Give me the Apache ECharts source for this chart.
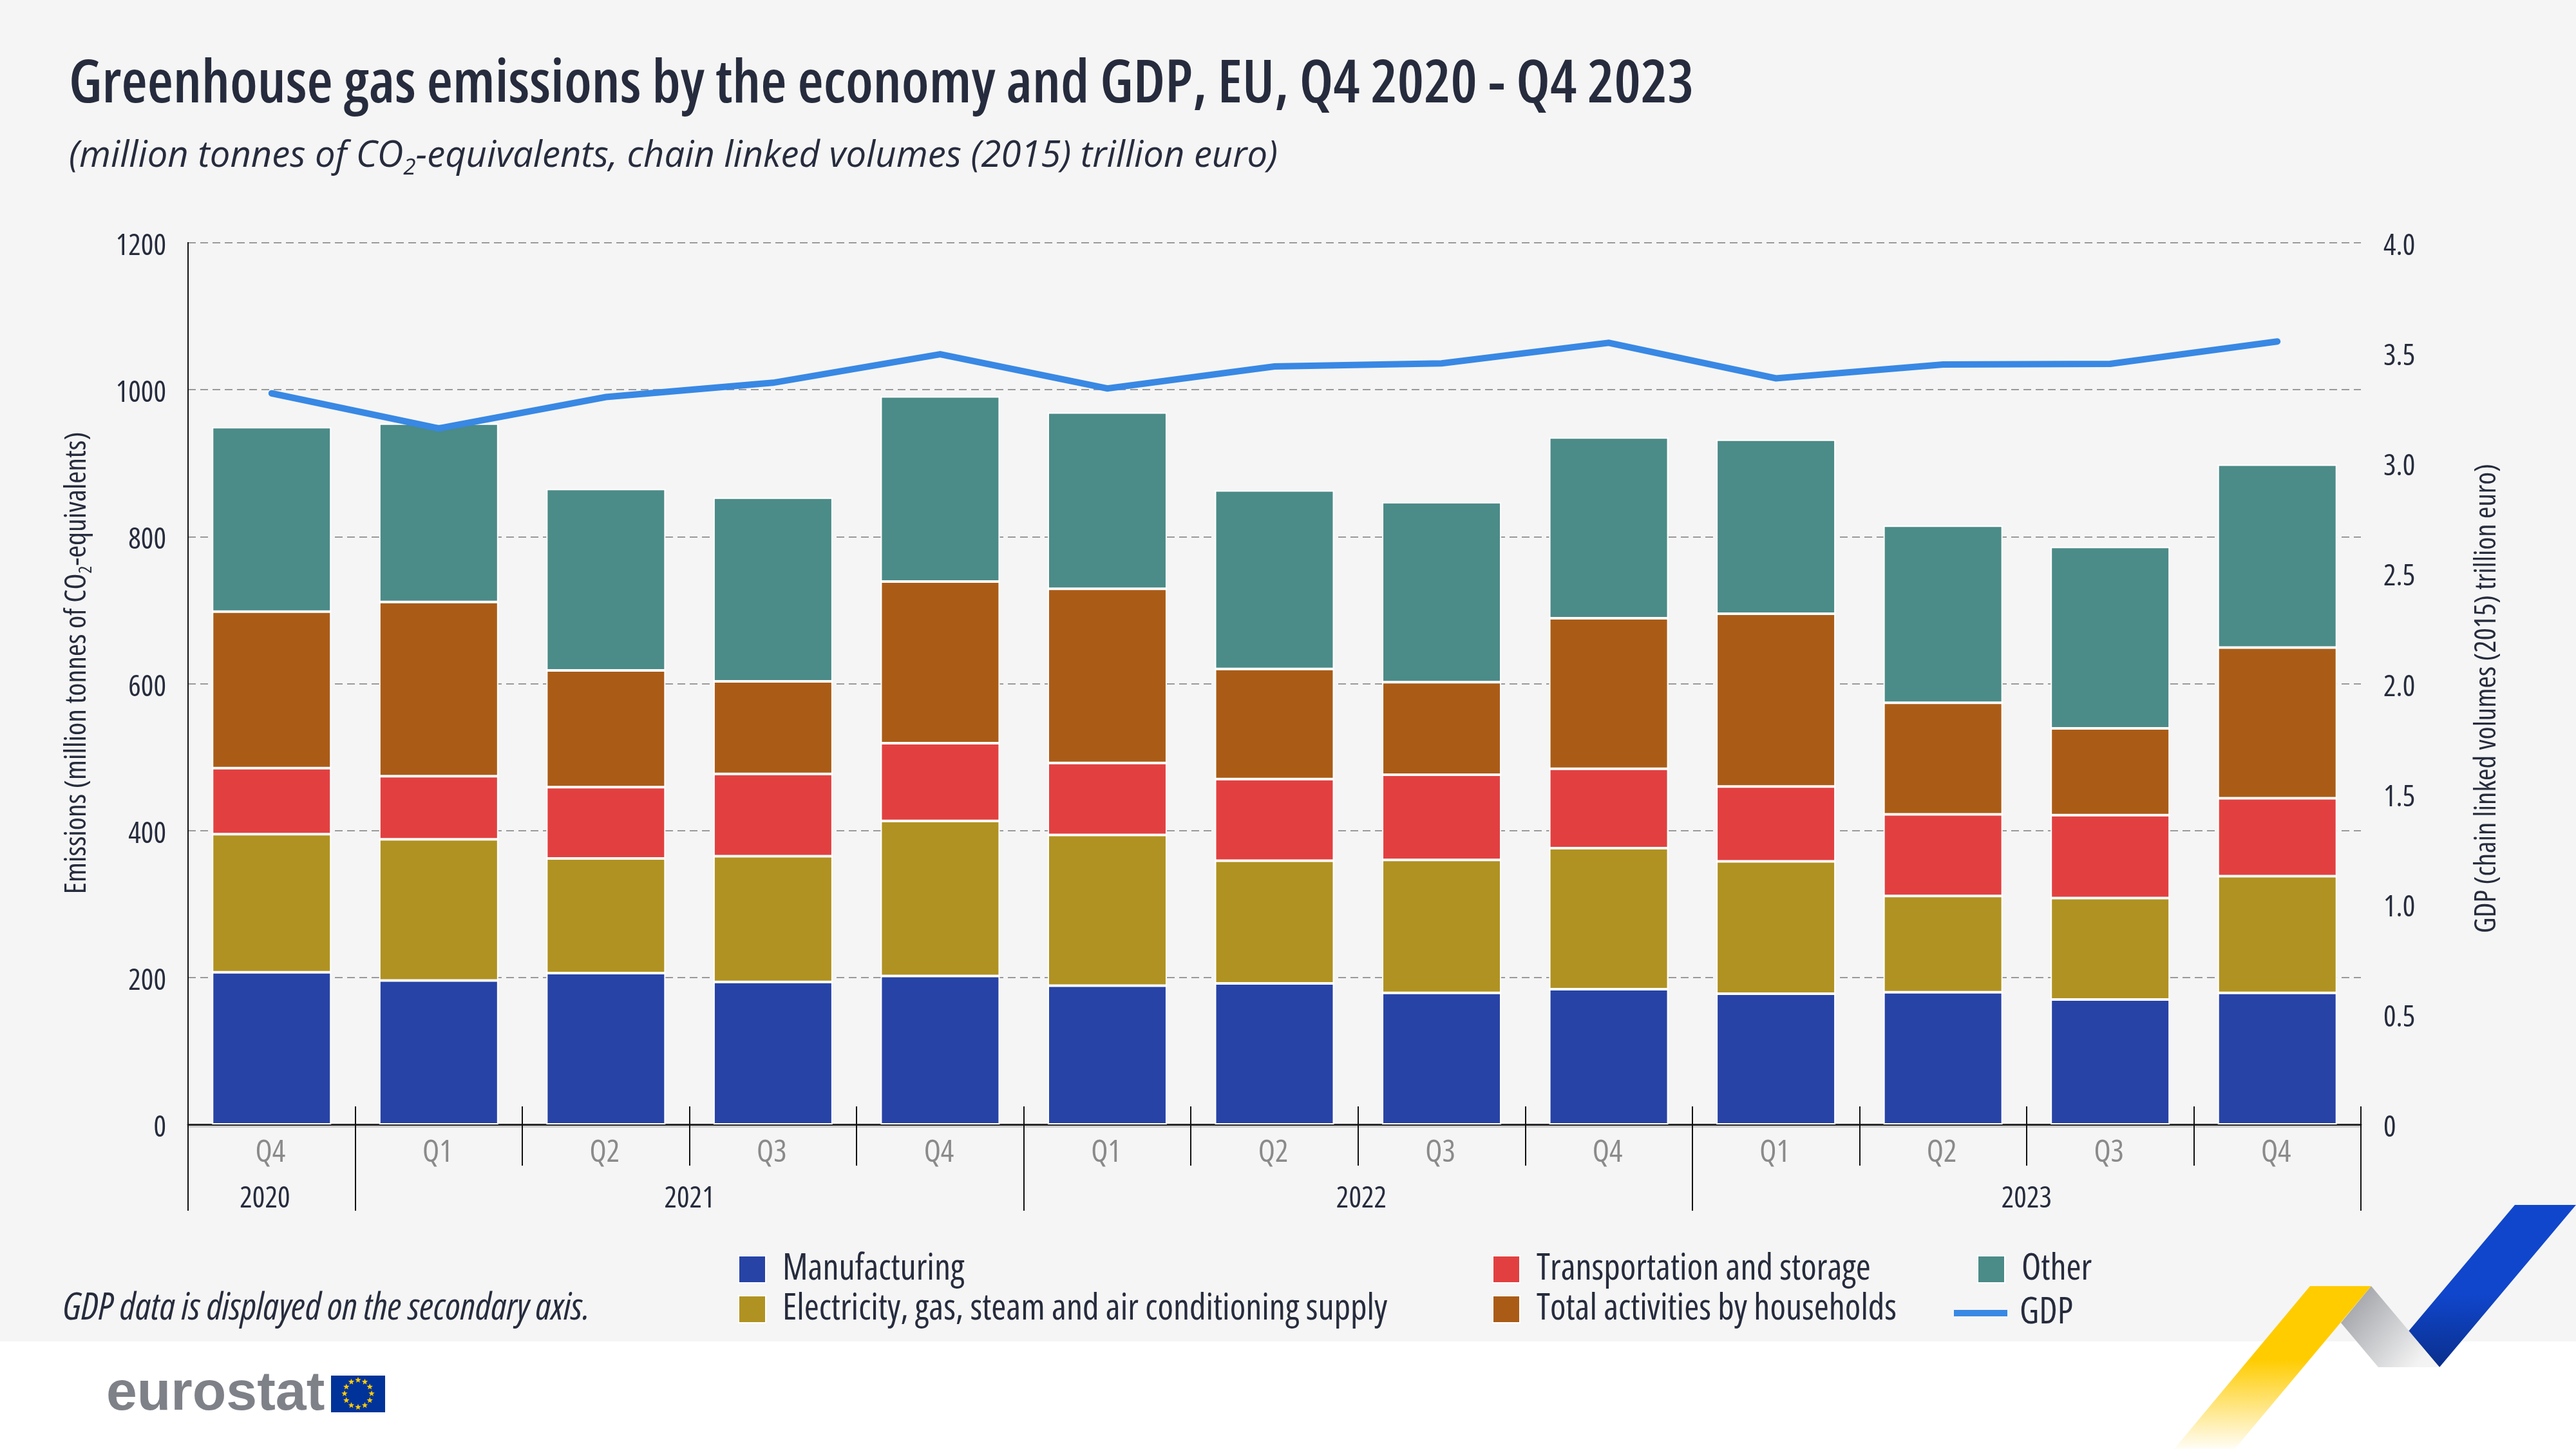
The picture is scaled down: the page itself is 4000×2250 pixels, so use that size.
<!DOCTYPE html>
<html>
<head>
<meta charset="utf-8">
<style>html,body{margin:0;padding:0;background:#f5f5f5}#c{width:4000px;height:2250px}</style>
<script src="https://cdn.jsdelivr.net/npm/echarts@6/dist/echarts.min.js"></script>
</head>
<body>
<div id="c"></div>
<script>
const quarters = ['Q4','Q1','Q2','Q3','Q4','Q1','Q2','Q3','Q4','Q1','Q2','Q3','Q4'];
const yearLabels = ['2020','2021','2022','2023'];
const yearLabelPositions = [0.46,3,7.02,11];
const yearBoundaries = [0,1,5,9,13];
const quarterBoundaries = [0,1,2,3,4,5,6,7,8,9,10,11,12,13];
const manufacturing = [207,196,206,194,202,189,192,179,184,178,180,170,179];
const electricity   = [188,192,156,171,211,205,167,181,192,180,131,138,159];
const transport     = [90,86,97,112,106,98,111,116,108,102,111,113,106];
const households    = [213,237,159,126,220,237,150,126,205,235,152,118,205];
const other         = [251,243,247,250,252,240,243,245,246,237,241,247,249];
const gdp = [3.317,3.158,3.30,3.365,3.494,3.339,3.439,3.453,3.546,3.385,3.448,3.451,3.552];

const FONT = '"Open Sans","Noto Sans",sans-serif';
const COND = 'condensed';
const INK = '#262c3d';
const stackColors = ['#2743a6','#b09222','#e24040','#aa5c17','#4b8b88'];
const stackNames = ['Manufacturing','Electricity, gas, steam and air conditioning supply','Transportation and storage','Total activities by households','Other'];
const stackValues = [manufacturing,electricity,transport,households,other];
const tickRich = {a:{fontFamily:FONT,fontStyle:COND,fontSize:46,color:INK,lineHeight:58,verticalAlign:'bottom'}};

const chart = echarts.init(document.getElementById('c'), null, {width:4000,height:2250,devicePixelRatio:1});

function starPoints(cx,cy,r){
  const p=[];
  for(let i=0;i<10;i++){
    const a=-Math.PI/2+i*Math.PI/5, q=i%2?r*0.42:r;
    p.push([cx+q*Math.cos(a),cy+q*Math.sin(a)]);
  }
  return p;
}
const flagStars=[];
for(let i=0;i<12;i++){
  const a=i*Math.PI/6;
  flagStars.push({type:'polygon',shape:{points:starPoints(556+21*Math.cos(a),2164+21*Math.sin(a),5)},style:{fill:'#ffcc00'},z:3});
}
function legendBase(left,top,names,w,h,gap){
  return {show:true,orient:'vertical',left:left,top:top,data:names,icon:'rect',itemWidth:w,itemHeight:h,itemGap:6,padding:0,selectedMode:false,
    lineStyle:{width:10,color:'#3888e4',cap:'round'},
    textStyle:{fontFamily:FONT,fontStyle:COND,fontSize:55.7,lineHeight:42,color:INK,padding:[0,0,0,gap]}};
}
const option={
  animation:false,
  backgroundColor:'#f5f5f5',
  title:[
    {text:'Greenhouse gas emissions by the economy and GDP, EU, Q4 2020 - Q4 2023',left:107,top:87,padding:0,
     textStyle:{fontFamily:FONT,fontStyle:COND,fontWeight:600,fontSize:92.4,color:INK}},
    {text:'{m|(million tonnes of CO}{s|2}{m|-equivalents, chain linked volumes (2015) trillion euro)}',left:107,top:207,padding:0,
     textStyle:{fontWeight:'normal',rich:{
       m:{fontFamily:FONT,fontStyle:'italic',fontWeight:'normal',fontSize:56.2,color:INK,lineHeight:72},
       s:{fontFamily:FONT,fontStyle:'italic',fontWeight:'normal',fontSize:35,color:INK,verticalAlign:'bottom',lineHeight:72,padding:[22,0,0,0]}
     }}}
  ],
  grid:{left:292,top:377,width:3374,height:1369,containLabel:false},
  legend:[
    legendBase(1146,1943,[stackNames[0],stackNames[1]],42,42,21),
    legendBase(2317,1943,[stackNames[2],stackNames[3]],42,42,21),
    legendBase(3070,1943,[stackNames[4]],42,42,21),
    legendBase(3034,2011,[{name:'GDP'}],83,10,14)
  ],
  xAxis:[
    {type:'category',data:quarters,position:'bottom',boundaryGap:true,
     axisLine:{show:true,onZero:false,lineStyle:{color:'#2a2a2a',width:3}},
     axisTick:{show:true,alignWithLabel:false,length:64,lineStyle:{color:'#111',width:2}},
     axisLabel:{fontFamily:FONT,fontStyle:COND,fontSize:48,color:'#8a8a8a',margin:18,interval:0,padding:[2,4,0,0]},splitLine:{show:false}},
    {type:'value',min:0,max:13,position:'bottom',
     axisLine:{show:false},
     axisTick:{show:true,inside:true,length:28,customValues:quarterBoundaries,lineStyle:{color:'#111',width:2}},
     axisLabel:{show:false},splitLine:{show:false}},
    {type:'value',min:0,max:13,position:'bottom',offset:3,
     axisLine:{show:true,onZero:false,lineStyle:{color:'#d2d2d2',width:3}},
     axisTick:{show:true,length:131,customValues:yearBoundaries,lineStyle:{color:'#111',width:2}},
     axisLabel:{show:true,customValues:yearLabelPositions,margin:90,fontFamily:FONT,fontStyle:COND,fontSize:46,color:INK,hideOverlap:false,showMinLabel:true,showMaxLabel:true,
       formatter:function(v){return yearLabels[yearLabelPositions.indexOf(v)];}},
     splitLine:{show:false}}
  ],
  yAxis:[
    {type:'value',min:0,max:1200,interval:200,position:'left',
     name:'{m|Emissions (million tonnes of CO}{s|2}{m|-equivalents)}',nameLocation:'middle',nameGap:144,
     nameTextStyle:{padding:[0,0,0,64],rich:{
       m:{fontFamily:FONT,fontStyle:COND,fontSize:46,color:INK,lineHeight:56},
       s:{fontFamily:FONT,fontStyle:COND,fontSize:28,color:INK,verticalAlign:'bottom',lineHeight:56,padding:[18,0,0,0]}}},
     axisLine:{show:true,lineStyle:{color:'#111',width:2}},axisTick:{show:false},
     axisLabel:{margin:34,rich:tickRich,formatter:function(v){return '{a|'+v+'}';}},
     splitLine:{show:true,lineStyle:{color:'#9a9a9a',width:2,type:[12,7]}}},
    {type:'value',min:0,max:4,interval:0.5,position:'right',
     name:'GDP (chain linked volumes (2015) trillion euro)',nameLocation:'middle',nameGap:174,
     nameTextStyle:{fontFamily:FONT,fontStyle:COND,fontSize:45,color:INK,padding:[0,46,0,0]},
     axisLine:{show:true,lineStyle:{color:'#111',width:2}},axisTick:{show:false},
     axisLabel:{margin:35,rich:tickRich,formatter:function(v){return '{a|'+(v===0?'0':v.toFixed(1))+'}';}},
     splitLine:{show:false}}
  ],
  series:stackNames.map(function(n,i){
    return {name:n,type:'bar',stack:'emissions',data:stackValues[i],barWidth:185,xAxisIndex:0,yAxisIndex:0,
      itemStyle:{color:stackColors[i],borderColor:'#ffffff',borderWidth:2}};
  }).concat([{name:'GDP',type:'line',data:gdp,xAxisIndex:0,yAxisIndex:1,showSymbol:false,symbol:'none',z:5,
      lineStyle:{color:'#3888e4',width:10,cap:'round',join:'miter'},itemStyle:{color:'#3888e4'}}]),
  graphic:[
    {type:'rect',shape:{x:0,y:2083,width:4000,height:167},style:{fill:'#ffffff'},z:0,silent:true},
    {type:'text',x:98,y:2032,style:{text:'GDP data is displayed on the secondary axis.',fontFamily:FONT,fontStyle:'italic condensed',fontSize:58,fill:INK,textVerticalAlign:'middle'},z:2},
    {type:'text',x:165,y:2208,style:{text:'eurostat',fontFamily:'"Liberation Sans",sans-serif',fontWeight:'bold',fontSize:86,fill:'#7f8188',textVerticalAlign:'bottom'},z:2},
    {type:'rect',shape:{x:514,y:2136,width:84,height:57},style:{fill:'#003399'},z:2}
  ].concat(flagStars).concat([
    {type:'polygon',shape:{points:[[3905,1871],[4000,1871],[3788,2123],[3740,2067]]},
     style:{fill:{type:'linear',x:0,y:0,x2:0,y2:1,colorStops:[{offset:0,color:'#1046cc'},{offset:0.55,color:'#1046cc'},{offset:1,color:'#0a2f8c'}]}},z:2},
    {type:'polygon',shape:{points:[[3682,1997],[3788,2123],[3693,2123],[3635,2054]]},
     style:{fill:{type:'linear',x:0,y:0,x2:1,y2:1,colorStops:[{offset:0,color:'#94979d'},{offset:0.85,color:'#f3f3f3'},{offset:1,color:'#f5f5f5'}]}},z:2},
    {type:'polygon',shape:{points:[[3587,1997],[3682,1997],[3470,2250],[3376,2250]]},
     style:{fill:{type:'linear',x:0,y:0,x2:0,y2:1,colorStops:[{offset:0,color:'#ffcc00'},{offset:0.45,color:'#ffcc00'},{offset:1,color:'#fffdf6'}]}},z:3}
  ])
};
chart.setOption(option);
</script>
</body>
</html>
